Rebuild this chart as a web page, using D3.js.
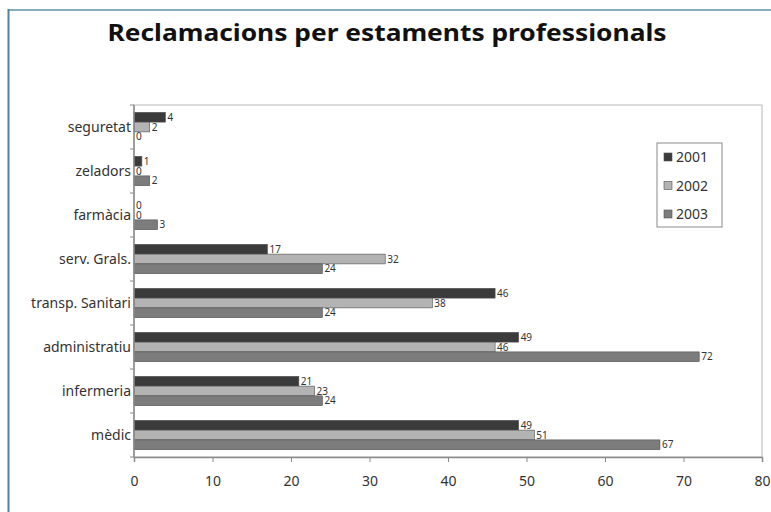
<!DOCTYPE html>
<html>
<head>
<meta charset="utf-8">
<script src="https://cdn.jsdelivr.net/npm/d3@7/dist/d3.min.js"></script>
<style>
  html, body { margin: 0; padding: 0; background: #fff; }
  svg { display: block; }
  text { font-family: "Noto Sans", "DejaVu Sans", sans-serif; fill: #222; }
</style>
</head>
<body>
<svg id="chart" width="771" height="512"></svg>
<script>
// ---- data ----
const categories = ["mèdic", "infermeria", "administratiu", "transp. Sanitari", "serv. Grals.", "farmàcia", "zeladors", "seguretat"];
const seriesNames = ["2001", "2002", "2003"];
const values2001 = [49, 21, 49, 46, 17, 0, 1, 4];
const values2002 = [51, 23, 46, 38, 32, 0, 0, 2];
const values2003 = [67, 24, 72, 24, 24, 3, 2, 0];
const xTicks = [0, 10, 20, 30, 40, 50, 60, 70, 80];
const colors = ["#3b3b3b", "#b3b3b3", "#7c7c7c"];
const title = "Reclamacions per estaments professionals";

const series = [values2001, values2002, values2003];

const svg = d3.select("#chart");

// frame
svg.append("line").attr("x1", 8).attr("x2", 771).attr("y1", 10).attr("y2", 10)
  .attr("stroke", "#86adc2").attr("stroke-width", 2);
svg.append("line").attr("x1", 8.5).attr("x2", 8.5).attr("y1", 9).attr("y2", 512)
  .attr("stroke", "#4f82a3").attr("stroke-width", 2);

// title
svg.append("text").attr("x", 387).attr("y", 41).attr("text-anchor", "middle")
  .attr("font-size", 24).attr("font-weight", "bold").style("fill", "#111")
  .attr("textLength", 559).attr("lengthAdjust", "spacingAndGlyphs")
  .text(title);

const pLeft = 134, pRight = 762, pTop = 105, pBottom = 457;

const x = d3.scaleLinear().domain([0, 80]).range([pLeft, pRight]);
// first category at bottom, like the original
const y = d3.scaleBand().domain(categories).range([pBottom, pTop]).paddingInner(0).paddingOuter(0);
const inner = d3.scaleBand().domain(seriesNames)
  .range([0, y.bandwidth()]).paddingOuter(0.75).paddingInner(0);

// category labels (drawn before plot so the plot can cover overflow)
const labG = svg.append("g");
categories.forEach(c => {
  labG.append("text").attr("x", 131).attr("y", y(c) + y.bandwidth() / 2 + 5)
    .attr("text-anchor", "end").attr("font-size", 14).style("fill", "#333").text(c);
});

// plot background & border
svg.append("rect").attr("x", pLeft).attr("y", pTop).attr("width", pRight - pLeft).attr("height", pBottom - pTop)
  .attr("fill", "#fff").attr("stroke", "#c4c4c4").attr("stroke-width", 1.2);

// bars
const barG = svg.append("g");
seriesNames.forEach((s, si) => {
  categories.forEach((c, ci) => {
    const v = series[si][ci];
    const by = y(c) + inner(s);
    barG.append("rect")
      .attr("x", x(0)).attr("y", by)
      .attr("width", x(v) - x(0)).attr("height", inner.bandwidth())
      .attr("fill", colors[si]).attr("stroke", "#505050").attr("stroke-width", 0.6);
    barG.append("text")
      .attr("x", x(v) + 2).attr("y", by + inner.bandwidth() / 2 + 3.5)
      .attr("font-size", 10).style("fill", "#333").text(v);
  });
});

// axes
const xAxis = d3.axisBottom(x).tickValues(xTicks).tickSize(5).tickPadding(14);
const gx = svg.append("g").attr("transform", `translate(0,${pBottom})`).call(xAxis);
gx.select(".domain").attr("stroke", "#8a8a8a").attr("stroke-width", 1.5);
gx.selectAll(".tick line").attr("stroke", "#8a8a8a");
gx.selectAll(".tick text").attr("font-size", 14).style("fill", "#333")
  .style("font-family", "'Noto Sans', sans-serif");

// y axis with ticks at band boundaries
const bounds = categories.map(c => y(c)).concat([pBottom]);
const gy = svg.append("g");
gy.append("line").attr("x1", pLeft).attr("x2", pLeft).attr("y1", pTop).attr("y2", pBottom)
  .attr("stroke", "#8a8a8a").attr("stroke-width", 1.5);
bounds.forEach(b => {
  gy.append("line").attr("x1", pLeft - 4).attr("x2", pLeft).attr("y1", b).attr("y2", b)
    .attr("stroke", "#8a8a8a");
});

// legend
const lg = svg.append("g");
lg.append("rect").attr("x", 657).attr("y", 143).attr("width", 65).attr("height", 84)
  .attr("fill", "#fff").attr("stroke", "#8a8a8a").attr("stroke-width", 1);
seriesNames.forEach((s, i) => {
  const cy = 157 + i * 28.5;
  lg.append("rect").attr("x", 664).attr("y", cy - 4).attr("width", 8).attr("height", 8)
    .attr("fill", colors[i]).attr("stroke", "#505050").attr("stroke-width", 0.6);
  lg.append("text").attr("x", 676).attr("y", cy + 5).attr("font-size", 14).style("fill", "#333").text(s);
});
</script>
</body>
</html>
